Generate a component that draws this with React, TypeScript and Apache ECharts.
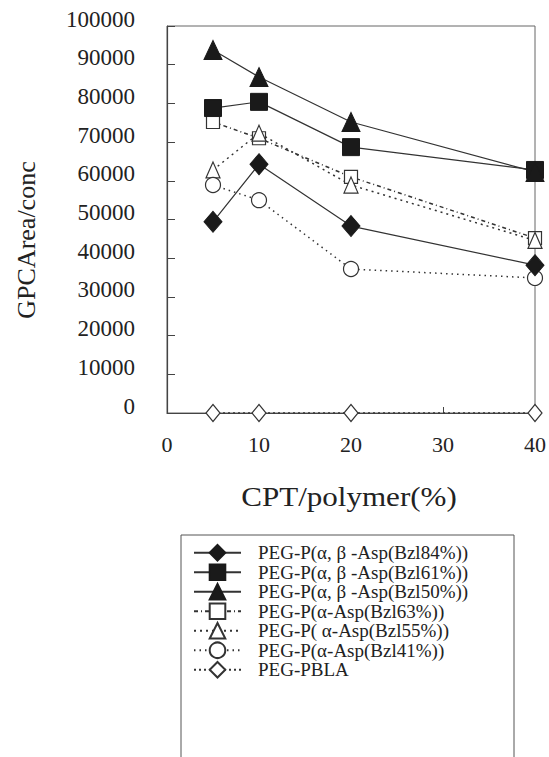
import React, { useEffect, useRef } from "react";
import * as echarts from "echarts";

const xValues = [5, 10, 20, 40];
const seriesNames = [
  "PEG-P(α, β -Asp(Bzl84%))",
  "PEG-P(α, β -Asp(Bzl61%))",
  "PEG-P(α, β -Asp(Bzl50%))",
  "PEG-P(α-Asp(Bzl63%))",
  "PEG-P( α-Asp(Bzl55%))",
  "PEG-P(α-Asp(Bzl41%))",
  "PEG-PBLA",
];
const bzl84 = [49400, 64300, 48300, 38200];
const bzl61 = [78800, 80400, 68700, 62800];
const bzl50 = [93800, 86800, 75200, 62300];
const bzl63 = [75200, 71000, 61000, 45200];
const bzl55 = [62800, 72300, 58900, 44600];
const bzl41 = [58900, 55000, 37200, 34900];
const pbla = [0, 0, 0, 0];
const yTicks = { min: 0, max: 100000, interval: 10000 };
const xTicks = { min: 0, max: 40, interval: 10 };

const FONT = "Liberation Serif";

export default function App() {
  const ref = useRef<HTMLDivElement>(null);
  useEffect(() => {
    if (!ref.current) return;
    const chart = echarts.init(ref.current, undefined, { renderer: "svg" });
    const pair = (ys: number[]) => xValues.map((x, i) => [x, ys[i]]);
    const filled = (name: string, ys: number[], symbol: string, size: any) => ({
      name,
      type: "line",
      data: pair(ys),
      symbol,
      symbolSize: size,
      lineStyle: { color: "#333", width: 1.2, type: "solid" },
      itemStyle: { color: "#1a1a1a", borderColor: "#1a1a1a", borderWidth: 1 },
      z: 3,
    });
    const open = (name: string, ys: number[], symbol: string, size: any, dash: number[]) => ({
      name,
      type: "line",
      data: pair(ys),
      symbol,
      symbolSize: size,
      lineStyle: { color: "#333", width: 1.5, type: dash },
      itemStyle: { color: "#fff", borderColor: "#333", borderWidth: 1.2 },
      z: 2,
    });
    chart.setOption({
      animation: false,
      backgroundColor: "#fff",
      grid: {
        left: 167,
        right: 6,
        top: 26,
        bottom: 344,
        show: true,
        borderColor: "#666",
        borderWidth: 1,
      },
      xAxis: {
        type: "value",
        min: xTicks.min,
        max: xTicks.max,
        interval: xTicks.interval,
        axisLine: { lineStyle: { color: "#444", width: 1.2 } },
        axisTick: { inside: true, length: 6, lineStyle: { color: "#444" } },
        splitLine: { show: false },
        axisLabel: { fontFamily: FONT, fontSize: 22, color: "#222", margin: 20 },
      },
      yAxis: {
        type: "value",
        min: yTicks.min,
        max: yTicks.max,
        interval: yTicks.interval,
        axisLine: { show: true, lineStyle: { color: "#444", width: 1.2 } },
        axisTick: { inside: true, length: 8, lineStyle: { color: "#444" } },
        splitLine: { show: false },
        axisLabel: {
          fontFamily: FONT,
          fontSize: 23,
          color: "#222",
          margin: 32,
          verticalAlign: "bottom",
          lineHeight: 14,
          formatter: (v: number) => String(v),
        },
      },
      legend: {
        orient: "vertical",
        left: 188,
        top: 538,
        itemWidth: 47,
        itemHeight: 19.5,
        itemGap: 0,
        data: seriesNames,
        textStyle: {
          fontFamily: FONT,
          fontSize: 19,
          color: "#222",
          lineHeight: 19.5,
          padding: [0, 0, 0, 12],
        },
      },
      graphic: [
        {
          type: "rect",
          shape: { x: 181, y: 535, width: 333, height: 260 },
          style: { fill: "none", stroke: "#555", lineWidth: 1 },
          silent: true,
        },
        {
          type: "text",
          x: 26,
          y: 240,
          rotation: Math.PI / 2,
          style: {
            text: "GPCArea/conc",
            fontFamily: FONT,
            fontSize: 26,
            fill: "#222",
            align: "center",
            verticalAlign: "middle",
          },
        },
        {
          type: "text",
          x: 349,
          y: 497,
          scaleX: 1.15,
          style: {
            text: "CPT/polymer(%)",
            fontFamily: FONT,
            fontSize: 27,
            fill: "#222",
            align: "center",
            verticalAlign: "middle",
          },
        },
      ],
      series: [
        filled(seriesNames[0], bzl84, "diamond", [18, 21]),
        filled(seriesNames[1], bzl61, "rect", [17, 17]),
        filled(seriesNames[2], bzl50, "triangle", [18, 19]),
        open(seriesNames[3], bzl63, "rect", [13, 13], [4, 3, 1, 3]),
        open(seriesNames[4], bzl55, "triangle", [14, 16], [2, 4]),
        open(seriesNames[5], bzl41, "circle", [15, 15], [1.5, 4]),
        open(seriesNames[6], pbla, "diamond", [14, 17], [2, 3]),
      ],
    });
    return () => chart.dispose();
  }, []);
  return <div ref={ref} style={{ width: 549, height: 757, position: "absolute", left: 0, top: 0 }} />;
}
